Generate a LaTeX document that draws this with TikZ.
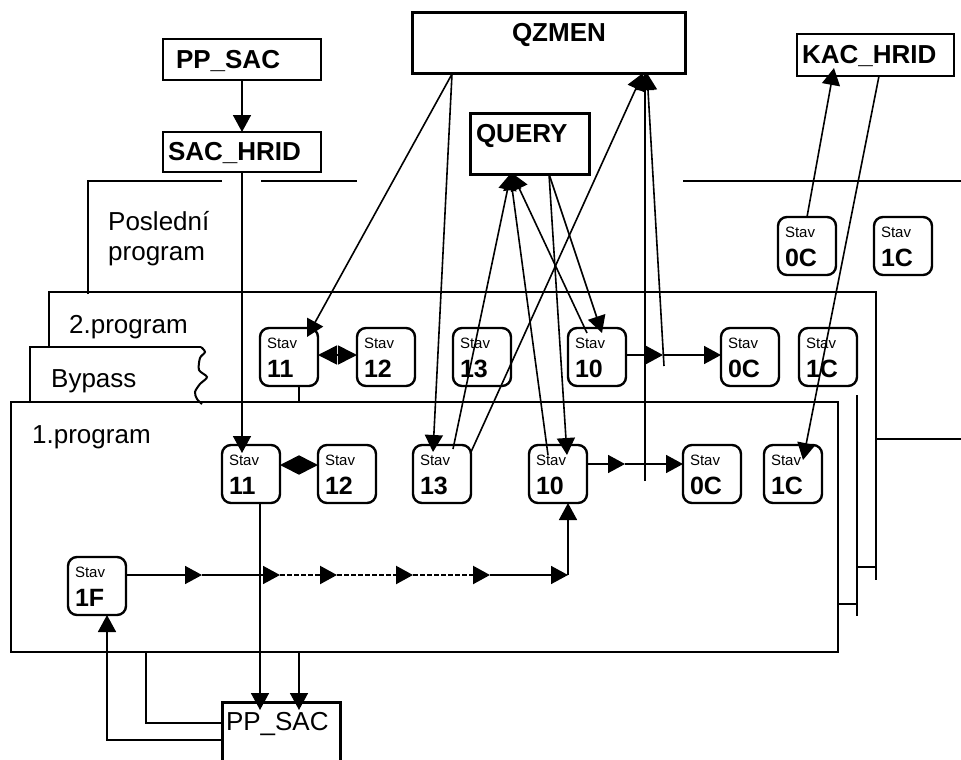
\documentclass[tikz,border=0pt]{standalone}
\usepackage{fontspec}
\setmainfont{Liberation Sans}
\usetikzlibrary{arrows.meta,calc}
\newcommand\stv[1]{\vbox to 58pt{\offinterlineskip\kern20pt\hbox to 58pt{\kern7pt\smash{\fontsize{15}{15}\selectfont Stav}\hss}\kern29pt\hbox to 58pt{\kern7pt\smash{\fontsize{25}{25}\selectfont\bfseries #1}\hss}\vss}}
\newcommand\lbl[5]{\vbox to #2pt{\offinterlineskip\kern#4pt\hbox to #1pt{\kern#3pt\smash{#5}\hss}\vss}}
\newcommand\bft{\bfseries\fontsize{26}{26}\selectfont}
\begin{document}
\begin{tikzpicture}[x=1pt,y=-1pt,
  conn/.style={line width=1.6pt},
  arr/.style={conn,-{Triangle[length=17pt,width=18pt]}},
  darr/.style={conn,{Triangle[length=19pt,width=19pt]}-{Triangle[length=19pt,width=19pt]}},
  dotl/.style={line width=2.2pt,dash pattern=on 4.5pt off 2.5pt},
  frm/.style={line width=2.3pt},
  stavbox/.style={draw,rounded corners=9pt,line width=2.4pt,inner sep=0pt,outer sep=0pt,anchor=north west},
  boxn/.style={draw,line width=2.8pt,inner sep=0pt,outer sep=0pt,anchor=north west},
  txt/.style={anchor=base west,inner sep=0pt,font=\fontsize{26}{30}\selectfont}]
\useasboundingbox (0,0) rectangle (961,760);
% frames
\draw[frm] (88,294) -- (88,181) -- (222,181);
\draw[frm] (261,181) -- (357,181);
\draw[frm] (683,181) -- (961,181);
\draw[frm] (49,348) -- (49,292) -- (876,292) -- (876,580);
\draw[frm] (857,567) -- (876,567);
\draw[frm] (876,439) -- (961,439);
\draw[frm] (857,395) -- (857,616);
\draw[frm] (838,604) -- (857,604);
\draw[frm] (30,403) -- (30,347) -- (201,347);
\draw[line width=2pt] plot[smooth] coordinates {(201,347) (205,352) (200,358) (199,370) (207,377) (200,384) (195,392) (197,399) (202,404)};
\node[draw,frm,inner sep=0pt,outer sep=0pt,anchor=north west,minimum width=827pt,minimum height=250pt] (prog1) at (11,402) {};
% texts
\node[txt] (tposl1) at (108,230) {Poslední};
\node[txt] (tposl2) at (108,260) {program};
\node[txt] (tprog2) at (69,333) {2.program};
\node[txt] (tbyp) at (51,387) {Bypass};
\node[txt] (tprog1) at (32,443) {1.program};
% boxes
\node[boxn] (ppsacA) at (163,39) {\lbl{158}{41}{13}{29}{\bft PP\_SAC}};
\node[boxn] (sachrid) at (163,132) {\lbl{158}{40}{5}{28}{\bft SAC\_HRID}};
\node[boxn,line width=3pt] (qzmen) at (412,13) {\lbl{273}{61}{100}{29}{\bft QZMEN}};
\node[boxn,line width=3pt] (query) at (470,113) {\lbl{119}{61}{6}{29}{\bft QUERY}};
\node[boxn,line width=1.4pt] (kachrid) at (797,34) {\lbl{157}{42}{5}{29}{\bft KAC\_HRID}};
\node[inner sep=0pt,outer sep=0pt,anchor=north west] (ppsacB) at (222,702) {\lbl{118}{58}{4}{28}{\fontsize{26}{26}\selectfont PP\_SAC}};
\draw[line width=3pt] (ppsacB.south west) -- (ppsacB.north west) -- (ppsacB.north east) -- (ppsacB.south east);
% stav nodes
\node[stavbox] (po0C) at (778,217) {\stv{0C}};
\node[stavbox] (po1C) at (874,217) {\stv{1C}};
\node[stavbox] (up11) at (260,328) {\stv{11}};
\node[stavbox] (up12) at (357,328) {\stv{12}};
\node[stavbox] (up13) at (453,328) {\stv{13}};
\node[stavbox] (up10) at (568,328) {\stv{10}};
\node[stavbox] (up0C) at (721,328) {\stv{0C}};
\node[stavbox] (up1C) at (799,328) {\stv{1C}};
\node[stavbox] (lo11) at (222,445) {\stv{11}};
\node[stavbox] (lo12) at (318,445) {\stv{12}};
\node[stavbox] (lo13) at (413,445) {\stv{13}};
\node[stavbox] (lo10) at (529,445) {\stv{10}};
\node[stavbox] (lo0C) at (683,445) {\stv{0C}};
\node[stavbox] (lo1C) at (764,445) {\stv{1C}};
\node[stavbox] (sf) at (68,557) {\stv{1F}};
% connectors
\draw[arr] (ppsacA.south) -- (sachrid.north);
\draw[arr] (sachrid.south) -- ($(lo11.north)+(-9,8)$);
\draw[arr] ($(lo11.south)+(9,0)$) -- ($(ppsacB.north west)+(38,8)$);
\draw[arr] ($(prog1.south west)+(288,0)$) -- ($(ppsacB.north west)+(77,8)$);
\draw[conn] ($(ppsacB.north west)+(0,21)$) -| ($(prog1.south west)+(135,0)$);
\draw[arr] ($(ppsacB.north west)+(0,38)$) -| ($(sf.south)+(10,0)$);
\coordinate (g1) at (202,575);
\coordinate (g2) at (280,575);
\coordinate (g3) at (337,575);
\coordinate (g4) at (413,575);
\coordinate (g5) at (490,575);
\coordinate (g6) at (568,575);
\draw[arr] ($(sf.east)+(0,-11)$) -- (g1);
\draw[arr] (g1) -- (g2);
\draw[arr,dotl] (g2) -- (g3);
\draw[arr,dotl] (g3) -- (g4);
\draw[arr,dotl] (g4) -- (g5);
\draw[arr] (g5) -- (g6);
\draw[arr] (g6) -- ($(lo10.south)+(10,0)$);
\draw[darr] ($(lo11.east)+(0,-9)$) -- ($(lo12.west)+(0,-9)$);
\draw[darr] ($(up11.east)+(0,-2)$) -- ($(up12.west)+(0,-2)$);
\draw[conn] ($(up11.south)+(10,0)$) -- ($(prog1.north west)+(288,0)$);
\coordinate (k1) at (625,464);
\draw[arr] ($(lo10.east)+(0,-10)$) -- (k1);
\draw[arr] (k1) -- ($(lo0C.west)+(0,-10)$);
\coordinate (l1) at (663,355);
\draw[arr] ($(up10.east)+(0,-2)$) -- (l1);
\draw[arr] (l1) -- ($(up0C.west)+(0,-2)$);
\coordinate (m0) at (645,481);
\draw[arr] (m0) -- ($(qzmen.south west)+(233,-1)$);
\coordinate (n0) at (664,366);
\draw[arr] (n0) -- ($(qzmen.south west)+(235,-1)$);
\draw[arr] ($(qzmen.south west)+(40,0)$) -- ($(up11.north west)+(47,9)$);
\draw[arr] ($(qzmen.south west)+(40,0)$) -- ($(lo13.north west)+(20,7)$);
\draw[arr] ($(lo13.north west)+(40,4)$) -- ($(query.south west)+(41,-1)$);
\draw[arr] ($(lo13.north east)+(0,7)$) -- ($(qzmen.south west)+(231,-1)$);
\draw[arr] ($(query.south west)+(79,0)$) -- ($(up10.north west)+(34,5)$);
\draw[arr] ($(query.south west)+(79,0)$) -- ($(lo10.north west)+(38,10)$);
\draw[arr] ($(up10.north west)+(19,5)$) -- ($(query.south west)+(42,-1)$);
\draw[arr] ($(lo10.north west)+(19,10)$) -- ($(query.south west)+(40,-1)$);
\draw[arr] ($(kachrid.south west)+(82,0)$) -- ($(lo1C.north west)+(39,15)$);
\draw[arr] ($(po0C.north west)+(29,0)$) -- ($(kachrid.south west)+(37,-8)$);
\end{tikzpicture}
\end{document}
